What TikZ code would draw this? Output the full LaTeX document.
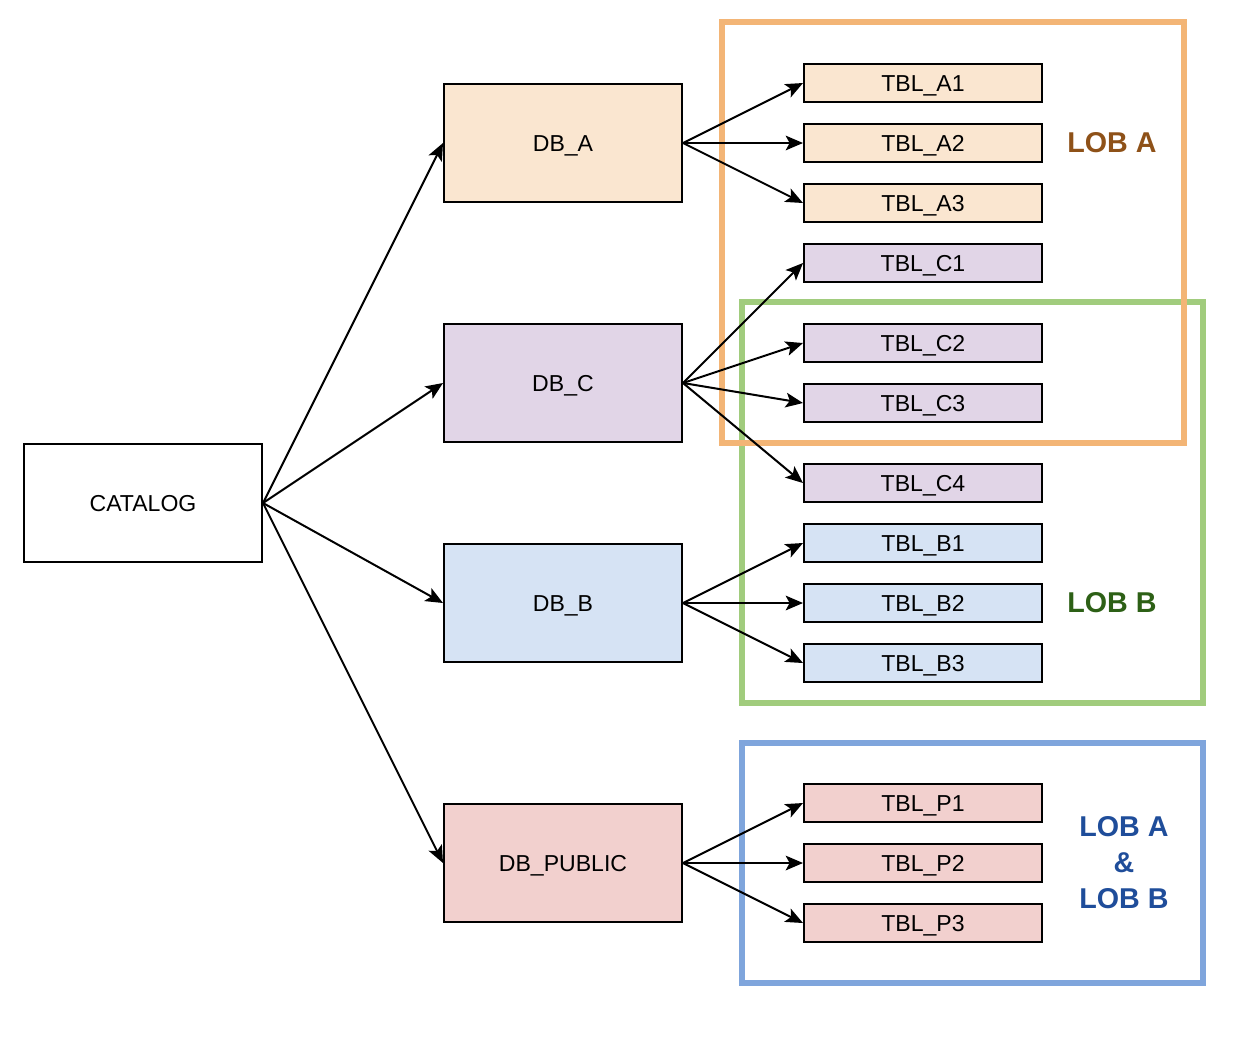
\documentclass[tikz,border=0pt]{standalone}
\usepackage{fontspec}
\setmainfont{Liberation Sans}
\usetikzlibrary{arrows.meta}
\definecolor{fillA}{HTML}{FAE6D0}
\definecolor{fillC}{HTML}{E1D5E7}
\definecolor{fillB}{HTML}{D6E3F4}
\definecolor{fillP}{HTML}{F2D0CE}
\definecolor{frameA}{HTML}{F3B576}
\definecolor{frameB}{HTML}{A1CC7D}
\definecolor{frameP}{HTML}{7FA5DC}
\definecolor{txtA}{HTML}{8E5118}
\definecolor{txtB}{HTML}{2D6016}
\definecolor{txtP}{HTML}{1F4D9A}
\tikzset{
  dbbox/.style={draw=black, line width=1.5pt, minimum width=178.5pt, minimum height=88.5pt, inner sep=0pt, text height=12.4pt, text depth=0pt, font=\fontsize{17.3}{20}\selectfont},
  tblbox/.style={draw=black, line width=1.5pt, minimum width=178.5pt, minimum height=28.5pt, inner sep=0pt, text height=12.4pt, text depth=0pt, font=\fontsize{17.3}{20}\selectfont},
  conn/.style={line width=1.5pt, -{Stealth[length=13pt,width=11pt,inset=3pt]}},
  frame/.style={line width=4.5pt},
  lob/.style={font=\fontsize{21.5}{27}\selectfont\bfseries, align=center}
}
\begin{document}
\begin{tikzpicture}[x=0.75pt, y=-0.75pt]
\useasboundingbox (0,0) rectangle (1244,1040);
% frames
\draw[frame, frameB] (742,302) rectangle (1203,703);
\draw[frame, frameP] (742,743) rectangle (1203,983);
\draw[frame, frameA] (722,22) rectangle (1184,443);
% main nodes
\node[dbbox, fill=white] (catalog) at (143,503) {CATALOG};
\node[dbbox, fill=fillA] (dba) at (563,143) {DB\_A};
\node[dbbox, fill=fillC] (dbc) at (563,383) {DB\_C};
\node[dbbox, fill=fillB] (dbb) at (563,603) {DB\_B};
\node[dbbox, fill=fillP] (dbp) at (563,863) {DB\_PUBLIC};
% tables
\node[tblbox, fill=fillA] (ta1) at (923,83) {TBL\_A1};
\node[tblbox, fill=fillA] (ta2) at (923,143) {TBL\_A2};
\node[tblbox, fill=fillA] (ta3) at (923,203) {TBL\_A3};
\node[tblbox, fill=fillC] (tc1) at (923,263) {TBL\_C1};
\node[tblbox, fill=fillC] (tc2) at (923,343) {TBL\_C2};
\node[tblbox, fill=fillC] (tc3) at (923,403) {TBL\_C3};
\node[tblbox, fill=fillC] (tc4) at (923,483) {TBL\_C4};
\node[tblbox, fill=fillB] (tb1) at (923,543) {TBL\_B1};
\node[tblbox, fill=fillB] (tb2) at (923,603) {TBL\_B2};
\node[tblbox, fill=fillB] (tb3) at (923,663) {TBL\_B3};
\node[tblbox, fill=fillP] (tp1) at (923,803) {TBL\_P1};
\node[tblbox, fill=fillP] (tp2) at (923,863) {TBL\_P2};
\node[tblbox, fill=fillP] (tp3) at (923,923) {TBL\_P3};
% labels
\node[lob, text=txtA] (lobA) at (1112,143) {LOB A};
\node[lob, text=txtB] (lobB) at (1112,603) {LOB B};
\node[lob, text=txtP] (lobAB) at (1124,863) {LOB A\\\&\\LOB B};
% connectors
\foreach \t in {dba,dbc,dbb,dbp} \draw[conn] (catalog.east) -- (\t.west);
\foreach \t in {ta1,ta2,ta3} \draw[conn] (dba.east) -- (\t.west);
\foreach \t in {tc1,tc2,tc3,tc4} \draw[conn] (dbc.east) -- (\t.west);
\foreach \t in {tb1,tb2,tb3} \draw[conn] (dbb.east) -- (\t.west);
\foreach \t in {tp1,tp2,tp3} \draw[conn] (dbp.east) -- (\t.west);
\end{tikzpicture}
\end{document}
